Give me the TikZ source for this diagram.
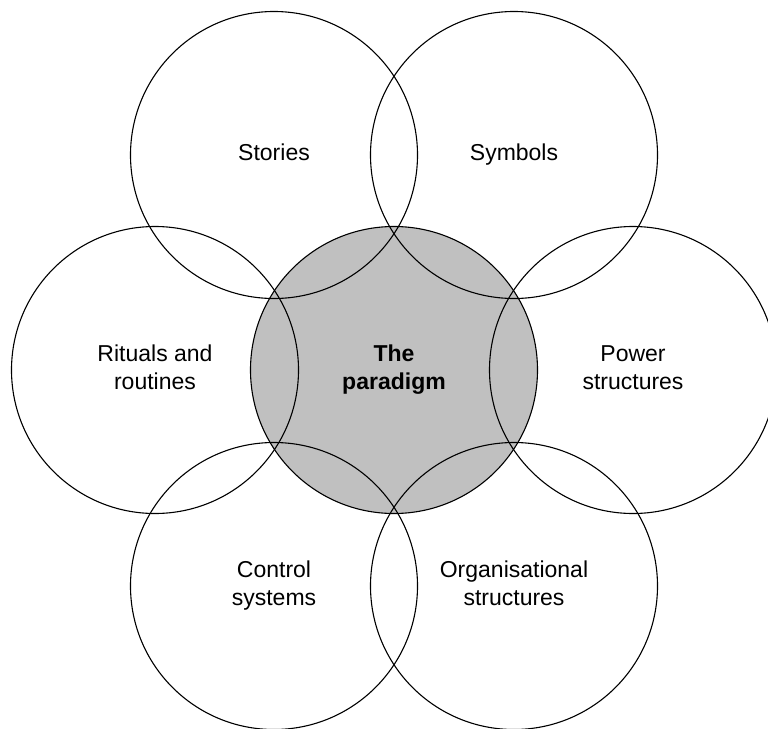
\documentclass[tikz,border=0pt]{standalone}
\usepackage{fontspec}
\setmainfont{Liberation Sans}
\definecolor{corefill}{HTML}{C0C0C0}
\begin{document}
\begin{tikzpicture}[x=1pt,y=-1pt,
  ring/.style={circle,draw=black,line width=1.1pt,minimum size=287pt,inner sep=0pt,align=center,font=\fontsize{23}{28}\selectfont},
  core/.style={ring,fill=corefill,font=\fontsize{23}{28}\selectfont\bfseries}]
\useasboundingbox (0,0) rectangle (768,728);
\clip (0,0) rectangle (768,728);
\node[core] (paradigm) at (394,370) {\strut The\\paradigm\strut};
\node[ring] (stories) at (274,155) {\strut Stories};
\node[ring] (symbols) at (514,155) {\strut Symbols};
\node[ring] (rituals) at (155,370) {\strut Rituals and\\routines\strut};
\node[ring] (power) at (633,370) {\strut Power\\structures\strut};
\node[ring] (control) at (274,586) {\strut Control\\systems\strut};
\node[ring] (organisational) at (514,586) {\strut Organisational\\structures\strut};
\end{tikzpicture}
\end{document}
